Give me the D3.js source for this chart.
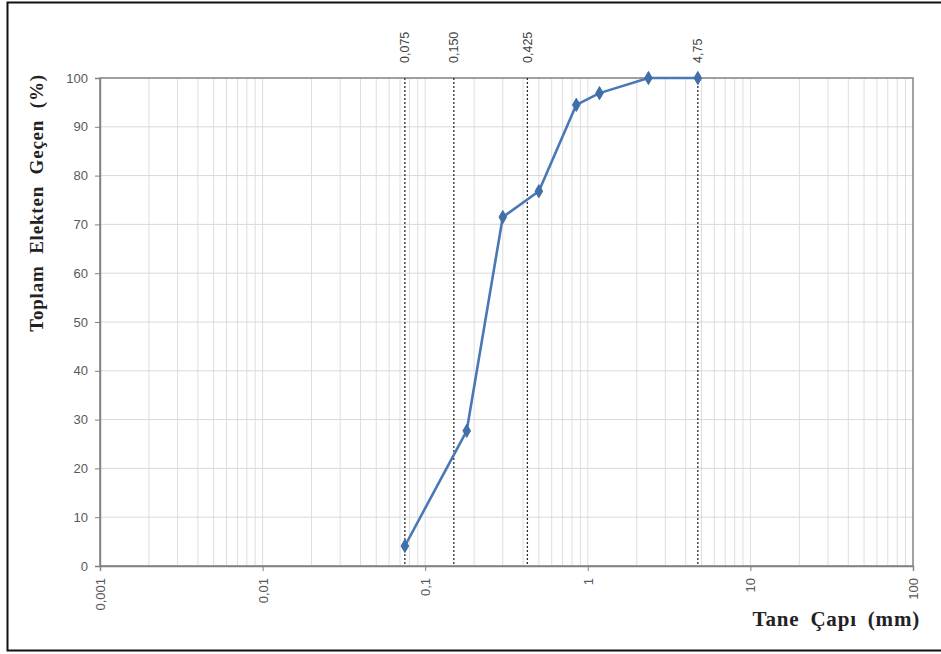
<!DOCTYPE html>
<html>
<head>
<meta charset="utf-8">
<script src="https://cdn.jsdelivr.net/npm/d3@7"></script>
<style>
  html, body { margin: 0; padding: 0; background: #fff; }
  svg { display: block; }
</style>
</head>
<body>
<svg id="chart" width="941" height="654"></svg>
<script>
// Sieve analysis: grain size (mm) vs cumulative percent passing
const grainSize = [0.075, 0.18, 0.3, 0.5, 0.85, 1.18, 2.36, 4.75];
const percentPassing = [4.1, 27.7, 71.5, 76.8, 94.5, 96.9, 100, 100];

// Reference sieve sizes marked with dashed lines
const sieveSizes = [0.075, 0.150, 0.425, 4.75];
const sieveLabels = ["0,075", "0,150", "0,425", "4,75"];

// Axis ticks
const xTicks = [0.001, 0.01, 0.1, 1, 10, 100];
const xTickLabels = ["0,001", "0,01", "0,1", "1", "10", "100"];
const yTicks = [0, 10, 20, 30, 40, 50, 60, 70, 80, 90, 100];

const xTitle = "Tane Çapı (mm)";
const yTitle = "Toplam Elekten Geçen (%)";

const svg = d3.select("#chart");
const plotLeft = 100, plotRight = 913, plotTop = 78, plotBottom = 566;

const x = d3.scaleLog().domain([0.001, 100]).range([plotLeft, plotRight]);
const y = d3.scaleLinear().domain([0, 100]).range([plotBottom, plotTop]);

// Outer frame (runs past the right edge of the page)
svg.append("rect")
  .attr("x", 7.5).attr("y", 2.5)
  .attr("width", 940).attr("height", 648)
  .attr("fill", "#fff").attr("stroke", "#111").attr("stroke-width", 2);

// Minor + major vertical gridlines (1..9 per decade)
const gridX = [];
for (let e = -3; e < 2; e++) {
  for (let m = 1; m <= 9; m++) gridX.push(m * Math.pow(10, e));
}
gridX.push(100);

svg.append("g").selectAll("line").data(gridX).join("line")
  .attr("x1", d => x(d)).attr("x2", d => x(d))
  .attr("y1", plotTop).attr("y2", plotBottom)
  .attr("stroke", "#dedede").attr("stroke-width", 1);

// Horizontal gridlines
svg.append("g").selectAll("line").data(yTicks).join("line")
  .attr("x1", plotLeft).attr("x2", plotRight)
  .attr("y1", d => y(d)).attr("y2", d => y(d))
  .attr("stroke", "#d9d9d9").attr("stroke-width", 1);

// Plot border
svg.append("rect")
  .attr("x", plotLeft).attr("y", plotTop)
  .attr("width", plotRight - plotLeft).attr("height", plotBottom - plotTop)
  .attr("fill", "none").attr("stroke", "#808080").attr("stroke-width", 1.4);

// Y axis
const yAxis = d3.axisLeft(y).tickValues(yTicks).tickSize(5).tickPadding(7);
const gy = svg.append("g").attr("transform", `translate(${plotLeft},0)`).call(yAxis);
gy.select(".domain").attr("stroke", "#808080").attr("stroke-width", 1.4);
gy.selectAll(".tick line").attr("stroke", "#808080");
gy.selectAll(".tick text")
  .attr("font-family", "'Liberation Sans', Arial, sans-serif")
  .attr("font-size", 13).attr("fill", "#595959");

// X axis
const xAxis = d3.axisBottom(x).tickValues(xTicks).tickSize(5)
  .tickFormat((d, i) => xTickLabels[i]);
const gx = svg.append("g").attr("transform", `translate(0,${plotBottom})`).call(xAxis);
gx.select(".domain").attr("stroke", "#808080").attr("stroke-width", 1.4);
gx.selectAll(".tick line").attr("stroke", "#808080");
gx.selectAll(".tick text")
  .attr("font-family", "'Liberation Sans', Arial, sans-serif")
  .attr("font-size", 13).attr("fill", "#595959")
  .attr("text-anchor", "end")
  .attr("dy", "0.35em")
  .attr("transform", "translate(0,12) rotate(-90)")
  .attr("x", 0).attr("y", 0);

// Dashed sieve reference lines with labels above the plot
const refs = sieveSizes.map((s, i) => ({ s, label: sieveLabels[i] }));
const gr = svg.append("g");
gr.selectAll("line").data(refs).join("line")
  .attr("x1", d => x(d.s)).attr("x2", d => x(d.s))
  .attr("y1", plotTop).attr("y2", plotBottom)
  .attr("stroke", "#2b2b2b").attr("stroke-width", 1.3)
  .attr("stroke-dasharray", "2,2");
gr.selectAll("text").data(refs).join("text")
  .attr("transform", d => `translate(${x(d.s)},63) rotate(-90)`)
  .attr("dy", "0.35em")
  .attr("text-anchor", "start")
  .attr("font-family", "'Liberation Sans', Arial, sans-serif")
  .attr("font-size", 12.5).attr("fill", "#404040")
  .text(d => d.label);

// Gradation curve
const pts = grainSize.map((g, i) => ({ g, p: percentPassing[i] }));
const line = d3.line().x(d => x(d.g)).y(d => y(d.p));
svg.append("path").datum(pts)
  .attr("d", line)
  .attr("fill", "none").attr("stroke", "#4a78b5")
  .attr("stroke-width", 2.6).attr("stroke-linejoin", "round");

svg.append("g").selectAll("path").data(pts).join("path")
  .attr("transform", d => `translate(${x(d.g)},${y(d.p)})`)
  .attr("d", d3.symbol().type(d3.symbolDiamond).size(50))
  .attr("fill", "#3f6ea8").attr("stroke", "#3f6ea8");

// Axis titles
svg.append("text")
  .attr("transform", "translate(36,203) rotate(-90)")
  .attr("text-anchor", "middle")
  .attr("dy", "0.35em")
  .attr("font-family", "'Liberation Serif', 'Times New Roman', serif")
  .attr("font-weight", "bold").attr("font-size", 19)
  .attr("word-spacing", 6).attr("letter-spacing", 0.8)
  .attr("fill", "#222")
  .text(yTitle);

svg.append("text")
  .attr("x", 920).attr("y", 626)
  .attr("text-anchor", "end")
  .attr("font-family", "'Liberation Serif', 'Times New Roman', serif")
  .attr("font-weight", "bold").attr("font-size", 21)
  .attr("word-spacing", 5).attr("letter-spacing", 0.8)
  .attr("fill", "#222")
  .text(xTitle);
</script>
</body>
</html>
